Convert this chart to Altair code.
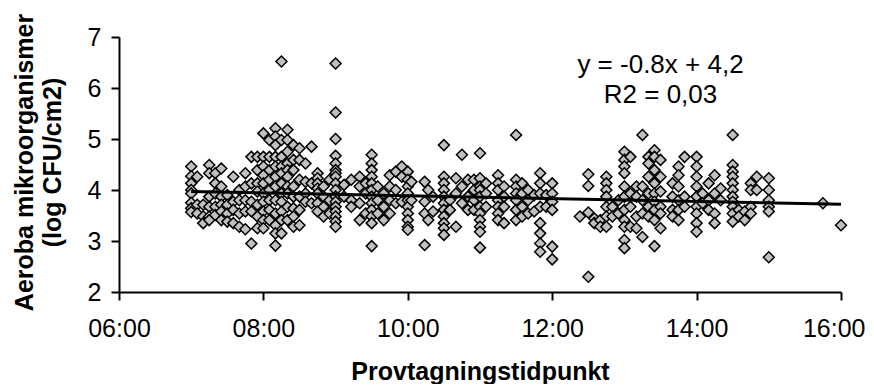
import altair as alt
import pandas as pd

# ---- data ----
sample_times = [
    "07:00", "07:05", "07:10", "07:15", "07:20", "07:25", "07:30", "07:35",
    "07:40", "07:45", "07:50", "07:55", "08:00", "08:05", "08:10", "08:15",
    "08:20", "08:25", "08:30", "08:35", "08:40", "08:45", "08:50", "08:55",
    "09:00", "09:07", "09:13", "09:20", "09:25", "09:30", "09:35", "09:40",
    "09:45", "09:50", "09:55", "10:00", "10:03", "10:14", "10:17", "10:21",
    "10:30", "10:35", "10:40", "10:45", "10:50", "10:55", "11:00", "11:05",
    "11:15", "11:20", "11:30", "11:35", "11:40", "11:45", "11:50", "11:55",
    "12:00", "12:23", "12:30", "12:35", "12:40", "12:45", "12:50", "12:55",
    "13:00", "13:05", "13:10", "13:15", "13:20", "13:25", "13:30", "13:40",
    "13:45", "13:50", "14:00", "14:05", "14:10", "14:15", "14:20", "14:30",
    "14:35", "14:40", "14:45", "14:50", "15:00", "15:45", "16:00",
]
sample_values = [
    [4.46, 4.27, 4.13, 4.00, 3.93, 3.75, 3.64, 3.57],
    [4.26, 3.71, 3.54],
    [3.71, 3.48, 3.35],
    [4.49, 4.33, 3.87, 3.67, 3.48, 3.41],
    [4.33, 4.13, 3.93, 3.67, 3.51],
    [4.42, 4.07, 3.87, 3.71, 3.58, 3.41],
    [3.90, 3.71, 3.54, 3.38],
    [4.26, 3.77, 3.61, 3.35],
    [4.00, 3.80, 3.54, 3.28],
    [4.33, 4.07, 3.80, 3.58, 3.23],
    [4.65, 4.13, 3.77, 3.58, 2.95],
    [4.65, 4.39, 4.13, 3.97, 3.71, 3.48, 3.25],
    [5.11, 4.65, 4.46, 4.29, 4.13, 3.93, 3.77, 3.58, 3.41, 3.25],
    [4.98, 4.65, 4.39, 4.20, 4.00, 3.80, 3.61, 3.41],
    [5.21, 5.05, 4.88, 4.65, 4.46, 4.26, 4.07, 3.80, 3.54, 3.31, 3.15, 2.91],
    [6.52, 4.98, 4.65, 4.46, 4.33, 4.13, 3.93, 3.77, 3.58, 3.41, 3.15],
    [5.18, 4.98, 4.75, 4.52, 4.39, 4.26, 4.07, 3.93, 3.67, 3.41],
    [4.88, 4.59, 4.39, 4.07, 3.87, 3.64, 3.48, 3.28],
    [4.82, 4.59, 4.20, 3.87, 3.61, 3.31],
    [4.52, 4.16, 3.93, 3.77],
    [4.85, 4.13, 3.74],
    [4.33, 4.23, 4.13, 4.03, 3.93, 3.74, 3.58],
    [4.07, 3.87, 3.67, 3.48],
    [4.20, 3.80, 3.54],
    [6.48, 5.52, 5.00, 4.67, 4.52, 4.39, 4.33, 4.26, 4.13, 4.00, 3.87, 3.77,
     3.67, 3.58, 3.48, 3.38, 3.28],
    [4.10, 3.87],
    [4.20, 3.80, 3.67],
    [4.26, 4.07, 3.74, 3.41],
    [4.13, 3.93, 3.54],
    [4.69, 4.52, 4.39, 4.26, 4.13, 4.00, 3.87, 3.74, 3.61, 3.48, 3.35, 2.90],
    [4.07, 3.80, 3.54],
    [3.93, 3.67, 3.41],
    [4.29, 4.07, 3.80, 3.54],
    [4.36, 4.00, 3.74],
    [4.46, 4.26, 3.77],
    [4.36, 4.20, 4.07, 3.93, 3.80, 3.67, 3.54, 3.41, 3.28, 3.22],
    [4.16, 3.80],
    [4.16, 3.77, 3.54, 2.92],
    [4.00, 3.41],
    [3.87, 3.58],
    [4.88, 4.26, 4.13, 4.00, 3.87, 3.74, 3.61, 3.48, 3.35, 3.25, 3.12],
    [3.80, 3.61],
    [4.23, 3.93, 3.28],
    [4.69, 4.07, 3.74],
    [4.20, 3.87, 3.61],
    [4.20, 4.00, 3.80, 3.61],
    [4.72, 4.23, 4.07, 4.00, 3.87, 3.67, 3.54, 3.41, 3.28, 3.18, 2.87],
    [4.13, 3.93, 3.67],
    [4.29, 4.13, 4.00, 3.80, 3.67, 3.54, 3.41],
    [4.07, 3.87, 3.67, 3.35],
    [5.08, 4.20, 4.07, 3.93, 3.80, 3.61, 3.41],
    [4.13, 3.93, 3.67, 3.48],
    [4.00, 3.80, 3.54],
    [3.90, 3.58],
    [4.33, 4.13, 3.93, 3.67, 3.35, 3.15, 2.95, 2.79],
    [3.90, 3.67],
    [4.13, 3.93, 3.77, 3.61, 2.89, 2.64],
    [3.48],
    [4.31, 4.08, 3.56, 2.30],
    [3.44, 3.35],
    [3.41, 3.28],
    [4.26, 4.13, 4.00, 3.87, 3.67, 3.48, 3.28],
    [3.67, 3.48],
    [3.80, 3.54],
    [4.75, 4.59, 4.46, 4.33, 4.07, 3.87, 3.61, 3.41, 3.28, 3.02, 2.86],
    [4.65, 3.93, 3.67, 3.28],
    [4.07, 3.87, 3.48, 3.25],
    [5.08, 4.07, 3.80, 3.54, 3.08],
    [4.65, 4.52, 4.26, 3.93, 3.67, 3.48],
    [4.78, 4.65, 4.39, 4.13, 3.93, 3.77, 3.61, 3.41, 2.90],
    [4.59, 4.26, 3.97, 3.67, 3.54, 3.25],
    [4.13, 3.87, 3.61, 3.48],
    [4.46, 4.29, 4.07, 3.80, 3.61, 3.41],
    [4.65, 3.87, 3.67],
    [4.65, 4.46, 4.26, 4.07, 3.87, 3.67, 3.54, 3.35, 3.18],
    [3.93, 3.74],
    [4.13, 3.80, 3.61],
    [4.29, 3.93, 3.54, 3.35],
    [4.03, 3.80],
    [5.08, 4.49, 4.36, 4.26, 4.13, 4.00, 3.87, 3.77, 3.67, 3.54, 3.38],
    [3.61, 3.48],
    [3.58, 3.41],
    [4.13, 4.00, 3.67, 3.54],
    [4.26, 4.00],
    [4.23, 4.00, 3.80, 3.67, 3.58, 2.68],
    [3.74],
    [3.31],
]

trend_times = ["07:00", "16:00"]
trend_values = [3.97, 3.72]

x_tick_hours = [6, 8, 10, 12, 14, 16]
y_ticks = [2, 3, 4, 5, 6, 7]

equation_lines = ["y = -0.8x + 4,2", "R2 = 0,03"]
equation_times = ["13:30", "13:30"]
equation_values = [6.29, 5.71]

x_title = "Provtagningstidpunkt"
y_title = ["Aeroba mikroorganismer", "(log CFU/cm2)"]


def to_hours(s):
    h, m = s.split(":")
    return int(h) + int(m) / 60.0


points_df = pd.DataFrame(
    [{"t": to_hours(t), "v": v} for t, vs in zip(sample_times, sample_values) for v in vs]
)
trend_df = pd.DataFrame({"t": [to_hours(t) for t in trend_times], "v": trend_values})
eq_df = pd.DataFrame(
    {"t": [to_hours(t) for t in equation_times], "v": equation_values, "label": equation_lines}
)

FONT = "Liberation Sans"

x_scale = alt.Scale(domain=[6, 16], nice=False, zero=False)
y_scale = alt.Scale(domain=[2, 7], nice=False, zero=False)

x_axis = alt.Axis(
    values=x_tick_hours,
    labelExpr="(datum.value < 10 ? '0' : '') + datum.value + ':00'",
    title=x_title,
    grid=False,
    tickSize=8,
    labelPadding=16,
    labelFlush=False,
    labelOverlap=False,
    labelBound=False,
    labelAlign={"condition": {"test": "datum.value >= 16", "value": "right"}, "value": "center"},
    labelOffset={"condition": {"test": "datum.value >= 16", "value": 24}, "value": 0},
    labelFontSize=25,
    titleFontSize=25,
    titleFontWeight="bold",
    titleY=87,
    titleBaseline="alphabetic",
)
y_axis = alt.Axis(
    values=y_ticks,
    title=y_title,
    grid=False,
    tickSize=8,
    labelPadding=10,
    labelFlush=False,
    labelOverlap=False,
    labelFontSize=25,
    titleFontSize=25,
    titleFontWeight="bold",
    titleLineHeight=28,
    titleX=-107,
    titleY=125,
    titleAlign="center",
    titleBaseline="top",
)

points = alt.Chart(points_df).mark_point(
    shape="diamond",
    filled=True,
    fill="#C0C0C0",
    stroke="black",
    strokeWidth=1.5,
    size=120,
    opacity=1,
).encode(
    x=alt.X("t:Q", scale=x_scale, axis=x_axis),
    y=alt.Y("v:Q", scale=y_scale, axis=y_axis),
)

trend = alt.Chart(trend_df).mark_line(color="black", strokeWidth=3).encode(
    x=alt.X("t:Q", scale=x_scale),
    y=alt.Y("v:Q", scale=y_scale),
)

equation = alt.Chart(eq_df).mark_text(
    font=FONT, fontSize=26, align="center", baseline="alphabetic", color="black"
).encode(
    x=alt.X("t:Q", scale=x_scale),
    y=alt.Y("v:Q", scale=y_scale),
    text="label:N",
)

chart = (
    alt.layer(points, trend, equation)
    .properties(
        width=722,
        height=255,
        autosize=alt.AutoSizeParams(type="none"),
        padding={"left": 111, "top": 29, "right": 25, "bottom": 92},
    )
    .configure_view(stroke=None)
    .configure_axis(
        domainColor="black",
        domainWidth=2,
        tickColor="black",
        tickWidth=2,
        labelColor="black",
        titleColor="black",
        labelFont=FONT,
        titleFont=FONT,
    )
)

chart.save("out.html", embed_options={"renderer": "svg", "actions": False})
